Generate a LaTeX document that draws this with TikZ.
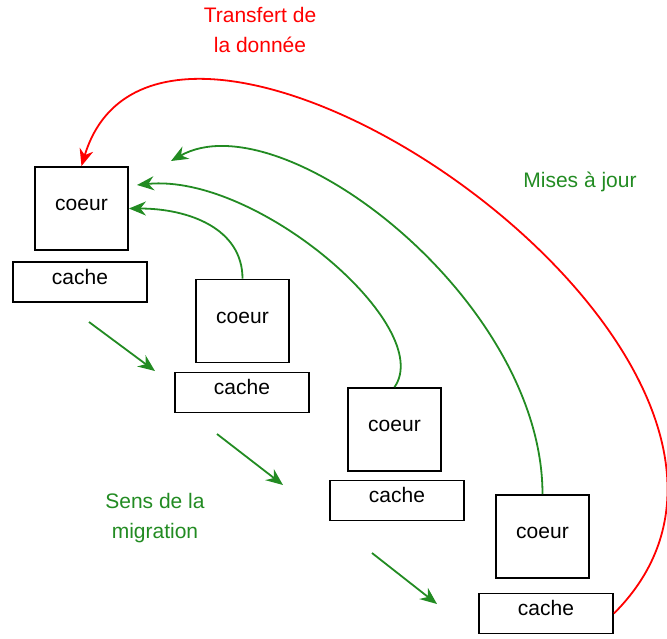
\documentclass[tikz,border=0pt]{standalone}
\usepackage{fontspec}
\setmainfont{Liberation Sans}
\usetikzlibrary{arrows.meta}
\definecolor{vert}{RGB}{34,139,34}
\definecolor{rouge}{RGB}{255,0,0}
\begin{document}
\begin{tikzpicture}[x=1pt, y=-1pt,
    font=\fontsize{21}{30}\selectfont,
    coeurbox/.style={draw, line width=1.8pt, minimum width=93pt, minimum height=83pt, text height=12pt, text depth=8pt},
    cachebox/.style={draw, line width=1.8pt, minimum width=134pt, minimum height=40pt, text height=12pt, text depth=8pt},
    maj/.style={-{Stealth[length=17pt,width=14pt]}, line width=1.8pt, vert},
    transfert/.style={-{Stealth[length=17pt,width=14pt]}, line width=1.8pt, rouge},
    legende/.style={align=center}
]
\useasboundingbox (0,0) rectangle (667,638);

% coeurs et caches
\node[coeurbox] (coeur1) at (81.5,208.5) {coeur};
\node[cachebox] (cache1) at (80,282) {cache};
\node[coeurbox] (coeur2) at (242.5,321) {coeur};
\node[cachebox] (cache2) at (242,392.5) {cache};
\node[coeurbox] (coeur3) at (394.5,429.5) {coeur};
\node[cachebox] (cache3) at (397,500.5) {cache};
\node[coeurbox] (coeur4) at (542.5,536.5) {coeur};
\node[cachebox] (cache4) at (546,613.5) {cache};

% legendes
\node[legende, rouge] (ltransfert) at (260,30) {Transfert de\\la donnée};
\node[legende, vert] (lmaj) at (580,182) {Mises à jour};
\node[legende, vert] (lmigr) at (155,518) {Sens de la\\migration};

% sens de la migration
\coordinate (mig1a) at (89,322);  \coordinate (mig1b) at (155,371);
\coordinate (mig2a) at (217,434); \coordinate (mig2b) at (283,485);
\coordinate (mig3a) at (372,553); \coordinate (mig3b) at (437,604);
\foreach \i in {1,2,3}
    \draw[maj] (mig\i a) -- (mig\i b);

% mises a jour
\coordinate (maj2) at (137,185);
\coordinate (maj3) at (171,161);
\draw[maj] (coeur2.north) .. controls +(0,-50) and +(60,0) .. (coeur1.east);
\draw[maj] (coeur3.north) .. controls +(42,-60) and +(120,-12) .. (maj2);
\draw[maj] (coeur4.north) .. controls +(0,-195) and +(110,-62) .. (maj3);

% transfert de la donnee
\draw[transfert] (cache4.east) .. controls +(250,-250) and +(82,-272) .. (coeur1.north);
\end{tikzpicture}
\end{document}
